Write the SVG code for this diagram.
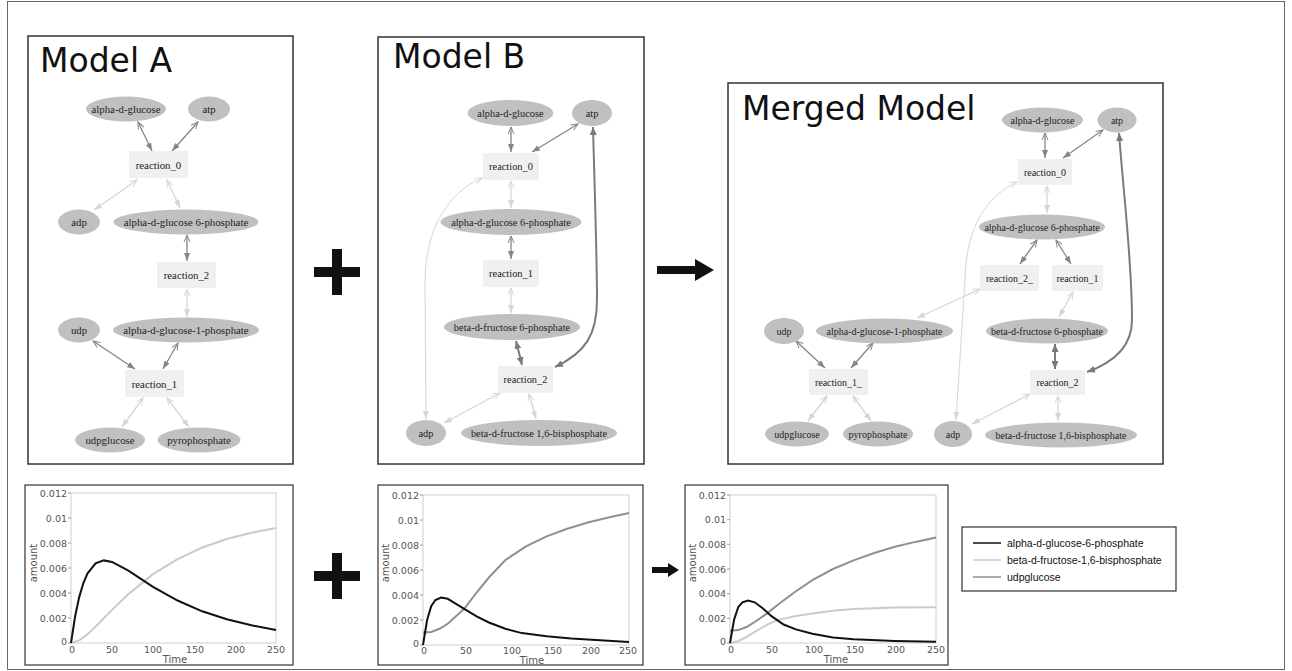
<svg xmlns="http://www.w3.org/2000/svg" width="1292" height="671" viewBox="0 0 1292 671">
<style>
  .panel { fill: #ffffff; stroke: #333; stroke-width: 1.5; }
  .title { font-family: "DejaVu Sans", Verdana, sans-serif; font-size: 33px; fill: #111; }
  .sp { fill: #c0c0c0; }
  .rx { fill: #f0f0f0; }
  .lbl { font-family: "Liberation Serif", "Times New Roman", serif; fill: #222; text-anchor: middle; dominant-baseline: central; }
  .fa { font-size: 10.8px; }
  .fb { font-size: 10.4px; }
  .fm { font-size: 10px; }
  .ed { fill: none; stroke: #868686; stroke-width: 1.3; marker-start: url(#veeD); marker-end: url(#arrD); }
  .el { fill: none; stroke: #d6d6d6; stroke-width: 1.3; marker-start: url(#veeL); marker-end: url(#arrL); }
  .eth { fill: none; stroke: #7a7a7a; stroke-width: 2; marker-start: url(#arrT); marker-end: url(#arrT); }
  .ethin { fill: none; stroke: #d6d6d6; stroke-width: 1; marker-start: url(#veeL); marker-end: url(#arrL); }
  .frame { fill: #fff; stroke: #333; stroke-width: 1.2; }
  .plot { fill: none; stroke: #cfcfcf; stroke-width: 1; }
  .tick { font-family: "DejaVu Sans", Verdana, sans-serif; font-size: 9.5px; fill: #555; }
  .ty { text-anchor: end; dominant-baseline: central; }
  .tx { text-anchor: middle; }
  .ax { font-family: "DejaVu Sans", Verdana, sans-serif; font-size: 10px; fill: #555; text-anchor: middle; }
  .cblk { fill: none; stroke: #111; stroke-width: 2; }
  .clt { fill: none; stroke: #cacaca; stroke-width: 2; }
  .cmd { fill: none; stroke: #8f8f8f; stroke-width: 2; }
  .leg { font-family: "Liberation Sans", Arial, sans-serif; font-size: 10.5px; fill: #111; }
</style>
<defs>
  <marker id="arrD" markerUnits="userSpaceOnUse" markerWidth="8" markerHeight="6" refX="8" refY="3" orient="auto-start-reverse">
    <path d="M0,0 L8,3 L0,6 z" fill="#868686"/>
  </marker>
  <marker id="arrL" markerUnits="userSpaceOnUse" markerWidth="8" markerHeight="6" refX="8" refY="3" orient="auto-start-reverse">
    <path d="M0,0 L8,3 L0,6 z" fill="#d6d6d6"/>
  </marker>
  <marker id="arrT" markerUnits="userSpaceOnUse" markerWidth="8" markerHeight="7" refX="8" refY="3.5" orient="auto-start-reverse">
    <path d="M0,0 L8,3.5 L0,7 z" fill="#7a7a7a"/>
  </marker>
  <marker id="veeD" markerUnits="userSpaceOnUse" markerWidth="10" markerHeight="8" refX="8" refY="4" orient="auto-start-reverse">
    <path d="M1,1 L8,4 L1,7" fill="none" stroke="#868686" stroke-width="1"/>
  </marker>
  <marker id="veeL" markerUnits="userSpaceOnUse" markerWidth="10" markerHeight="8" refX="8" refY="4" orient="auto-start-reverse">
    <path d="M1,1 L8,4 L1,7" fill="none" stroke="#d6d6d6" stroke-width="1"/>
  </marker>
</defs>

<rect x="0" y="0" width="1292" height="671" fill="#ffffff"/>
<rect x="7.5" y="1.5" width="1277" height="668" fill="none" stroke="#666" stroke-width="1"/>

<!-- network panels -->
<rect class="panel" x="28" y="36" width="265" height="428"/>
<text class="title" x="40" y="72">Model A</text>
<rect class="panel" x="378" y="37" width="266" height="427"/>
<text class="title" x="393" y="68">Model B</text>
<rect class="panel" x="728" y="83" width="435" height="381"/>
<text class="title" x="742" y="120">Merged Model</text>

<!-- operators between panels -->
<g id="op-plus-top" fill="#111">
  <rect x="314" y="267" width="46" height="10"/>
  <rect x="332" y="249" width="10" height="46"/>
</g>
<g id="op-arrow-top" fill="#111">
  <path d="M657,266 L695,266 L695,259 L714,270 L695,281 L695,274 L657,274 z"/>
</g>
<g id="op-plus-bottom" fill="#111">
  <rect x="314" y="571" width="46" height="10"/>
  <rect x="332" y="553" width="10" height="46"/>
</g>
<g id="op-arrow-bottom" fill="#111">
  <path d="M652,567 L668,567 L668,563 L679,570 L668,577 L668,573 L652,573 z"/>
</g>

<!-- connectors -->
<g id="connectors">
  <!-- Model A -->
  <path class="ed" d="M138,122 L152,151"/>
  <path class="ed" d="M198,122 L172,151"/>
  <path class="el" d="M137,180 L94,210"/>
  <path class="el" d="M167,180 L180,208"/>
  <path class="ed" d="M187,235 L187,261"/>
  <path class="el" d="M187,289 L187,317"/>
  <path class="ed" d="M93,341 L135,369"/>
  <path class="ed" d="M178,343 L163,369"/>
  <path class="el" d="M143,398 L122,427"/>
  <path class="el" d="M167,398 L189,427"/>
  <!-- Model B -->
  <path class="ed" d="M511,127 L511,152"/>
  <path class="ed" d="M578,124 L532,152"/>
  <path class="el" d="M511,181 L511,208"/>
  <path class="ed" d="M511,236 L511,259"/>
  <path class="el" d="M511,288 L511,313"/>
  <path class="eth" d="M516,341 L522,365"/>
  <path class="eth" d="M593,127 C595,200 597,260 597,300 C597,335 585,353 555,367"/>
  <path class="el" d="M500,393 L444,423"/>
  <path class="el" d="M529,394 L536,419"/>
  <path class="ethin" d="M482,178 C450,192 426,225 425,280 L426,419"/>
  <!-- Merged Model -->
  <path class="ed" d="M1045,133 L1045,158"/>
  <path class="ed" d="M1103,130 L1063,158"/>
  <path class="el" d="M1047,186 L1047,213"/>
  <path class="ed" d="M1037,240 L1020,264"/>
  <path class="ed" d="M1056,240 L1071,264"/>
  <path class="el" d="M1073,292 L1059,317"/>
  <path class="eth" d="M1055,344 L1055,369"/>
  <path class="eth" d="M1119,133 C1124,200 1132,260 1132,320 C1132,345 1115,362 1087,372"/>
  <path class="el" d="M1030,394 L972,424"/>
  <path class="el" d="M1058,396 L1058,421"/>
  <path class="ethin" d="M1017,182 C988,196 966,225 965,280 L956,420"/>
  <path class="el" d="M980,289 L917,318"/>
  <path class="ed" d="M796,341 L825,368"/>
  <path class="ed" d="M873,343 L851,368"/>
  <path class="el" d="M827,396 L808,421"/>
  <path class="el" d="M853,396 L871,421"/>
</g>

<!-- Model A nodes -->
<g id="a-alpha-d-glucose"><ellipse class="sp" cx="126" cy="109" rx="40" ry="12.5"/><text class="lbl fa" x="126" y="109">alpha-d-glucose</text></g>
<g id="a-atp"><ellipse class="sp" cx="209" cy="109" rx="21" ry="12.5"/><text class="lbl fa" x="209" y="109">atp</text></g>
<g id="a-reaction_0"><rect class="rx" x="129" y="151" width="59" height="27"/><text class="lbl fa" x="158.5" y="164.5">reaction_0</text></g>
<g id="a-adp"><ellipse class="sp" cx="79" cy="222" rx="21" ry="12.5"/><text class="lbl fa" x="79" y="222">adp</text></g>
<g id="a-g6p"><ellipse class="sp" cx="186" cy="222" rx="72.5" ry="12.5"/><text class="lbl fa" x="186" y="222">alpha-d-glucose 6-phosphate</text></g>
<g id="a-reaction_2"><rect class="rx" x="157" y="262" width="59" height="26"/><text class="lbl fa" x="186.5" y="275">reaction_2</text></g>
<g id="a-udp"><ellipse class="sp" cx="79" cy="330" rx="21" ry="12.5"/><text class="lbl fa" x="79" y="330">udp</text></g>
<g id="a-g1p"><ellipse class="sp" cx="186" cy="330" rx="73" ry="12.5"/><text class="lbl fa" x="186" y="330">alpha-d-glucose-1-phosphate</text></g>
<g id="a-reaction_1"><rect class="rx" x="125" y="370" width="59" height="27"/><text class="lbl fa" x="154.5" y="383.5">reaction_1</text></g>
<g id="a-udpglucose"><ellipse class="sp" cx="110" cy="440" rx="35" ry="12.5"/><text class="lbl fa" x="110" y="440">udpglucose</text></g>
<g id="a-pyrophosphate"><ellipse class="sp" cx="199" cy="440" rx="41.5" ry="12.5"/><text class="lbl fa" x="199" y="440">pyrophosphate</text></g>

<!-- Model B nodes -->
<g id="b-alpha-d-glucose"><ellipse class="sp" cx="510.5" cy="113" rx="43" ry="13"/><text class="lbl fb" x="510.5" y="113">alpha-d-glucose</text></g>
<g id="b-atp"><ellipse class="sp" cx="592" cy="113" rx="20" ry="13"/><text class="lbl fb" x="592" y="113">atp</text></g>
<g id="b-reaction_0"><rect class="rx" x="483" y="153" width="56" height="27"/><text class="lbl fb" x="511" y="166.5">reaction_0</text></g>
<g id="b-g6p"><ellipse class="sp" cx="511" cy="222" rx="70.5" ry="13"/><text class="lbl fb" x="511" y="222">alpha-d-glucose 6-phosphate</text></g>
<g id="b-reaction_1"><rect class="rx" x="483" y="260" width="56" height="27"/><text class="lbl fb" x="511" y="273.5">reaction_1</text></g>
<g id="b-bf6p"><ellipse class="sp" cx="512" cy="327" rx="68" ry="13"/><text class="lbl fb" x="512" y="327">beta-d-fructose 6-phosphate</text></g>
<g id="b-reaction_2"><rect class="rx" x="498" y="366" width="55" height="27"/><text class="lbl fb" x="525.5" y="379.5">reaction_2</text></g>
<g id="b-adp"><ellipse class="sp" cx="426" cy="433" rx="20" ry="13"/><text class="lbl fb" x="426" y="433">adp</text></g>
<g id="b-bf16bp"><ellipse class="sp" cx="539" cy="433" rx="78" ry="13"/><text class="lbl fb" x="539" y="433">beta-d-fructose 1,6-bisphosphate</text></g>

<!-- Merged Model nodes -->
<g id="m-alpha-d-glucose"><ellipse class="sp" cx="1042.5" cy="120" rx="40.5" ry="12.5"/><text class="lbl fm" x="1042.5" y="120">alpha-d-glucose</text></g>
<g id="m-atp"><ellipse class="sp" cx="1117" cy="120" rx="19.5" ry="12.5"/><text class="lbl fm" x="1117" y="120">atp</text></g>
<g id="m-reaction_0"><rect class="rx" x="1018" y="159" width="54" height="26"/><text class="lbl fm" x="1045" y="172">reaction_0</text></g>
<g id="m-g6p"><ellipse class="sp" cx="1042" cy="227" rx="63" ry="12.5"/><text class="lbl fm" x="1042" y="227">alpha-d-glucose 6-phosphate</text></g>
<g id="m-reaction_2_"><rect class="rx" x="980" y="265" width="59" height="26"/><text class="lbl fm" x="1009.5" y="278">reaction_2_</text></g>
<g id="m-reaction_1"><rect class="rx" x="1052" y="265" width="51" height="26"/><text class="lbl fm" x="1077.5" y="278">reaction_1</text></g>
<g id="m-bf6p"><ellipse class="sp" cx="1047" cy="331" rx="61" ry="12.5"/><text class="lbl fm" x="1047" y="331">beta-d-fructose 6-phosphate</text></g>
<g id="m-reaction_2"><rect class="rx" x="1030" y="370" width="55" height="25"/><text class="lbl fm" x="1057.5" y="382.5">reaction_2</text></g>
<g id="m-adp"><ellipse class="sp" cx="953" cy="434" rx="19" ry="13"/><text class="lbl fm" x="953" y="434">adp</text></g>
<g id="m-bf16bp"><ellipse class="sp" cx="1061" cy="435" rx="76" ry="12.5"/><text class="lbl fm" x="1061" y="435">beta-d-fructose 1,6-bisphosphate</text></g>
<g id="m-udp"><ellipse class="sp" cx="784" cy="331" rx="20" ry="13"/><text class="lbl fm" x="784" y="331">udp</text></g>
<g id="m-g1p"><ellipse class="sp" cx="884.5" cy="331" rx="68.5" ry="12.5"/><text class="lbl fm" x="884.5" y="331">alpha-d-glucose-1-phosphate</text></g>
<g id="m-reaction_1_"><rect class="rx" x="809" y="369" width="59" height="26"/><text class="lbl fm" x="838.5" y="382">reaction_1_</text></g>
<g id="m-udpglucose"><ellipse class="sp" cx="797" cy="434" rx="32" ry="12.5"/><text class="lbl fm" x="797" y="434">udpglucose</text></g>
<g id="m-pyrophosphate"><ellipse class="sp" cx="878" cy="434" rx="35" ry="12.5"/><text class="lbl fm" x="878" y="434">pyrophosphate</text></g>

<!-- chart: Model A time course -->
<g id="chart-a">
  <rect class="frame" x="25" y="485" width="268" height="180"/>
  <rect class="plot" x="71" y="493" width="205" height="150"/>
  <g stroke="#999" stroke-width="1">
    <path d="M68,493 H71 M68,518 H71 M68,543 H71 M68,568 H71 M68,593 H71 M68,618 H71 M68,643 H71"/>
  </g>
  <g class="tick ty">
    <text x="67" y="493">0.012</text><text x="67" y="518">0.01</text><text x="67" y="543">0.008</text>
    <text x="67" y="568">0.006</text><text x="67" y="593">0.004</text><text x="67" y="618">0.002</text><text x="67" y="641">0</text>
  </g>
  <g class="tick tx">
    <text x="72" y="653">0</text><text x="112" y="653">50</text><text x="153" y="653">100</text>
    <text x="195" y="653">150</text><text x="236" y="653">200</text><text x="276" y="653">250</text>
  </g>
  <text class="ax" x="175" y="663">Time</text>
  <text class="ax" transform="translate(37,563) rotate(-90)">amount</text>
  <polyline class="clt" points="71,643 79.2,640.4 87.4,634.4 95.6,626.5 103.8,618.3 112,609.9 128.4,594.1 153,574.1 177.6,559.1 202.2,547.5 226.8,539 251.4,532.8 276,528"/>
  <polyline class="cblk" points="71,643 75.1,616.5 79.2,597.1 83.3,583.3 87.4,573.6 95.6,563.3 103.8,560.4 112,561.9 128.4,570.6 153,586.8 177.6,600.5 202.2,611.3 226.8,619.3 251.4,625.3 276,629.9"/>
</g>

<!-- chart: Model B time course -->
<g id="chart-b">
  <rect class="frame" x="378" y="485" width="265" height="180"/>
  <rect class="plot" x="423" y="495" width="206" height="150"/>
  <g stroke="#999" stroke-width="1">
    <path d="M420,495 H423 M420,520 H423 M420,545 H423 M420,570 H423 M420,595 H423 M420,620 H423 M420,645 H423"/>
  </g>
  <g class="tick ty">
    <text x="419" y="495">0.012</text><text x="419" y="520">0.01</text><text x="419" y="545">0.008</text>
    <text x="419" y="570">0.006</text><text x="419" y="595">0.004</text><text x="419" y="620">0.002</text><text x="419" y="643">0</text>
  </g>
  <g class="tick tx">
    <text x="424" y="654">0</text><text x="466" y="654">50</text><text x="512" y="654">100</text>
    <text x="553" y="654">150</text><text x="591" y="654">200</text><text x="628" y="654">250</text>
  </g>
  <text class="ax" x="532" y="664">Time</text>
  <text class="ax" transform="translate(389,563) rotate(-90)">amount</text>
  <polyline class="cmd" points="423,632.5 431.2,631.9 439.5,628.8 447.7,623.8 456,616.3 464.2,608.8 476.6,592.5 488.9,577.5 505.4,560 526,546.3 546.6,536.3 567.2,528.8 587.8,522.5 608.4,517.5 629,513.1"/>
  <polyline class="cblk" points="423,645 427.1,620 431.2,606.3 435.4,600 441.1,597.5 447.7,598.8 456,603.8 464.2,608.8 476.6,616.3 488.9,622.5 505.4,628.8 521.9,633.1 546.6,636.3 571.3,638.5 596,640 629,641.9"/>
</g>

<!-- chart: merged model time course -->
<g id="chart-merged">
  <rect class="frame" x="685" y="485" width="263" height="180"/>
  <rect class="plot" x="730" y="495" width="206" height="148"/>
  <g stroke="#999" stroke-width="1">
    <path d="M727,495 H730 M727,519.7 H730 M727,544.3 H730 M727,569 H730 M727,593.7 H730 M727,618.3 H730 M727,643 H730"/>
  </g>
  <g class="tick ty">
    <text x="726" y="495">0.012</text><text x="726" y="519.7">0.01</text><text x="726" y="544.3">0.008</text>
    <text x="726" y="569">0.006</text><text x="726" y="593.7">0.004</text><text x="726" y="618.3">0.002</text><text x="726" y="641">0</text>
  </g>
  <g class="tick tx">
    <text x="731" y="653">0</text><text x="772" y="653">50</text><text x="814" y="653">100</text>
    <text x="855" y="653">150</text><text x="896" y="653">200</text><text x="936" y="653">250</text>
  </g>
  <text class="ax" x="836" y="663">Time</text>
  <text class="ax" transform="translate(696,563) rotate(-90)">amount</text>
  <polyline class="clt" points="730,643 738.2,641.2 746.5,636.8 754.7,631.9 763,627 771.2,622.6 779.4,619.6 795.9,615.9 812.4,613.4 833,610.7 853.6,609.1 894.8,607.6 936,607.2"/>
  <polyline class="cmd" points="730,630.7 738.2,630.1 746.5,627 754.7,622 767.1,613.4 779.4,603.5 795.9,591.2 812.4,580.1 833,569 853.6,560.4 874.2,553 894.8,546.8 915.4,541.9 936,537.6"/>
  <polyline class="cblk" points="730,643 734.1,619.6 738.2,607.2 742.4,602.3 748.1,600.5 754.7,602.3 763,608.5 771.2,615.9 783.6,624.5 795.9,629.4 812.4,633.7 833,637.5 853.6,639.3 894.8,641 936,641.8"/>
</g>

<!-- legend -->
<g id="legend">
  <rect x="962" y="527" width="214" height="64" fill="#fff" stroke="#333" stroke-width="1.2"/>
  <line x1="973" y1="543" x2="1001" y2="543" stroke="#111" stroke-width="1.5"/>
  <line x1="973" y1="560" x2="1001" y2="560" stroke="#cacaca" stroke-width="1.5"/>
  <line x1="973" y1="577" x2="1001" y2="577" stroke="#8f8f8f" stroke-width="1.5"/>
  <text class="leg" x="1007" y="547">alpha-d-glucose-6-phosphate</text>
  <text class="leg" x="1007" y="564">beta-d-fructose-1,6-bisphosphate</text>
  <text class="leg" x="1007" y="581">udpglucose</text>
</g>
</svg>
